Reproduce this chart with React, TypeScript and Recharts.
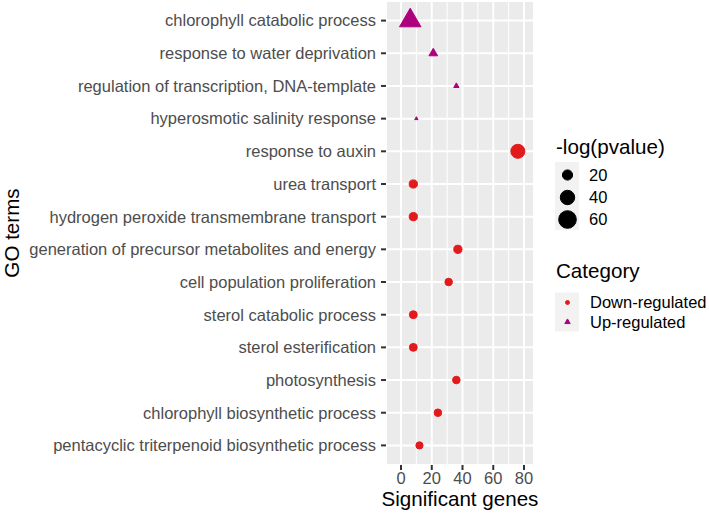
import {
  CartesianGrid,
  Scatter,
  ScatterChart,
  Symbols,
  XAxis,
  YAxis,
  ZAxis,
} from "recharts";

const terms = [
  "chlorophyll catabolic process",
  "response to water deprivation",
  "regulation of transcription, DNA-template",
  "hyperosmotic salinity response",
  "response to auxin",
  "urea transport",
  "hydrogen peroxide transmembrane transport",
  "generation of precursor metabolites and energy",
  "cell population proliferation",
  "sterol catabolic process",
  "sterol esterification",
  "photosynthesis",
  "chlorophyll biosynthetic process",
  "pentacyclic triterpenoid biosynthetic process",
];
const genes = [6, 21, 36, 10, 76, 8, 8, 37, 31, 8, 8, 36, 24, 12];
const logp = [49, 8, 3, 1.2, 38, 13, 13, 13, 11, 12, 12, 11, 11, 10];
const category = [
  "Up", "Up", "Up", "Up",
  "Down", "Down", "Down", "Down", "Down", "Down", "Down", "Down", "Down", "Down",
];
const xTicks = [0, 20, 40, 60, 80];
const xMinor = [10, 30, 50, 70];
const sizeBreaks = [20, 40, 60];

const RED = "#E31A1C";
const MAGENTA = "#AE017E";
const FONT = "'Liberation Sans', Arial, sans-serif";
const AREA_PER_UNIT = 4.08;

const rows = terms.map((term, i) => ({
  term,
  row: i,
  genes: genes[i],
  logp: logp[i],
  category: category[i],
}));
const downData = rows.filter((r) => r.category === "Down");
const upData = rows.filter((r) => r.category === "Up");

function LegendPanel() {
  const keyY = [175, 197.5, 219.5];
  return (
    <svg
      width={175}
      height={514}
      style={{ position: "absolute", left: 534, top: 0, fontFamily: FONT }}
    >
      <text x={22} y={153.5} fontSize={20.6} fill="#000">
        -log(pvalue)
      </text>
      <rect x={21} y={162} width={24} height={68} fill="#F2F2F2" />
      {sizeBreaks.map((b, i) => (
        <g key={b}>
          <Symbols
            cx={33.5}
            cy={keyY[i]}
            type="circle"
            size={b * AREA_PER_UNIT}
            fill="#000"
            stroke="#000"
            strokeWidth={1}
          />
          <text x={55} y={keyY[i] + 5.9} fontSize={16.5} fill="#000">
            {b}
          </text>
        </g>
      ))}

      <text x={22} y={278} fontSize={20.6} fill="#000">
        Category
      </text>
      <rect x={21} y={292.5} width={24} height={39} fill="#F2F2F2" />
      <Symbols cx={33.5} cy={302.5} type="circle" size={12.5} fill={RED} stroke={RED} strokeWidth={1} />
      <text x={56} y={302.5 + 5.9} fontSize={16.5} fill="#000">
        Down-regulated
      </text>
      <Symbols cx={33.5} cy={322} type="triangle" size={12.5} fill={MAGENTA} stroke={MAGENTA} strokeWidth={1} />
      <text x={56} y={322 + 5.9} fontSize={16.5} fill="#000">
        Up-regulated
      </text>
    </svg>
  );
}

export default function App() {
  const tickStyle = { fontSize: 16.5, fill: "#4D4D4D", fontFamily: FONT };
  return (
    <div style={{ position: "relative", width: 709, height: 514, background: "#fff" }}>
      <style>{"body{margin:0}"}</style>
      <ScatterChart
        width={709}
        height={514}
        margin={{ top: 1, right: 175, bottom: 0, left: 0 }}
        style={{ fontFamily: FONT }}
      >
        <CartesianGrid
          fill="#EBEBEB"
          stroke="#FFFFFF"
          strokeWidth={1}
          horizontal={false}
          verticalValues={xMinor}
        />
        <CartesianGrid stroke="#FFFFFF" strokeWidth={2} />
        <XAxis
          type="number"
          dataKey="genes"
          domain={[-9.76, 86.5]}
          ticks={xTicks}
          allowDataOverflow
          height={49}
          axisLine={false}
          tickSize={5}
          tickMargin={2.5}
          tickLine={{ stroke: "#333333", strokeWidth: 2 }}
          tick={tickStyle}
          label={{
            value: "Significant genes",
            position: "insideBottom",
            offset: 8,
            style: { fontSize: 20.6, fill: "#000", fontFamily: FONT },
          }}
        />
        <YAxis
          type="number"
          dataKey="row"
          domain={[-0.6, 13.6]}
          reversed
          ticks={terms.map((_, i) => i)}
          interval={0}
          allowDataOverflow
          width={386}
          axisLine={false}
          tickSize={5}
          tickMargin={5}
          tickLine={{ stroke: "#333333", strokeWidth: 2 }}
          tick={tickStyle}
          tickFormatter={(v: number) => terms[v] ?? ""}
          label={{
            value: "GO terms",
            angle: -90,
            position: "insideLeft",
            offset: 12,
            style: { textAnchor: "middle", fontSize: 20.6, fill: "#000", fontFamily: FONT },
          }}
        />
        <ZAxis type="number" dataKey="logp" domain={[0, 100]} range={[0, 100 * AREA_PER_UNIT]} />
        <Scatter
          name="Down-regulated"
          data={downData}
          shape="circle"
          fill={RED}
          stroke={RED}
          strokeWidth={1}
          isAnimationActive={false}
        />
        <Scatter
          name="Up-regulated"
          data={upData}
          shape="triangle"
          fill={MAGENTA}
          stroke={MAGENTA}
          strokeWidth={1}
          isAnimationActive={false}
        />
      </ScatterChart>
      <LegendPanel />
    </div>
  );
}
